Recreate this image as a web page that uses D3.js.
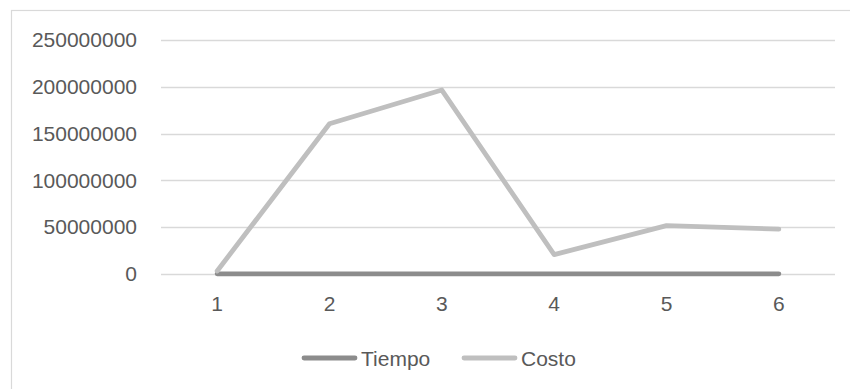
<!DOCTYPE html>
<html>
<head>
<meta charset="utf-8">
<script src="https://cdn.jsdelivr.net/npm/d3@7/dist/d3.min.js"></script>
<style>
  html, body { margin: 0; padding: 0; background: #fff; }
  svg { display: block; }
  text { font-family: "Liberation Sans", Arial, sans-serif; fill: #595959; }
</style>
</head>
<body>
<svg id="chart" width="850" height="389"></svg>
<script>
// Periods on the x axis
const categories = [1, 2, 3, 4, 5, 6];
// Series values
const tiempo = [0, 0, 0, 0, 0, 0];
const costo = [3000000, 160500000, 196500000, 20500000, 51500000, 47800000];
// Y axis ticks
const yTicks = [0, 50000000, 100000000, 150000000, 200000000, 250000000];

const seriesNames = ["Tiempo", "Costo"];
const seriesColors = ["#8c8c8c", "#bfbfbf"];
const seriesData = [tiempo, costo];

const svg = d3.select("#chart");
const W = 850, H = 389;

// Chart area frame
svg.append("rect")
  .attr("x", 11.5).attr("y", 10.5)
  .attr("width", W + 20).attr("height", H + 20)
  .attr("fill", "#fff").attr("stroke", "#d9d9d9").attr("stroke-width", 1.2);

const plot = { left: 161, right: 835, top: 40, bottom: 273.8 };

const x = d3.scaleBand()
  .domain(categories)
  .range([plot.left, plot.right])
  .paddingInner(0).paddingOuter(0);

const y = d3.scaleLinear()
  .domain([0, 250000000])
  .range([plot.bottom, plot.top]);

// Horizontal gridlines
svg.append("g")
  .selectAll("line")
  .data(yTicks)
  .join("line")
  .attr("x1", plot.left).attr("x2", plot.right)
  .attr("y1", d => Math.round(y(d)) + 0.5).attr("y2", d => Math.round(y(d)) + 0.5)
  .attr("stroke", "#d9d9d9").attr("stroke-width", 1.3);

// Y axis labels
const yAxis = d3.axisLeft(y).tickValues(yTicks).tickFormat(d3.format("d")).tickSize(0).tickPadding(0);
const yg = svg.append("g").attr("transform", `translate(${plot.left - 24},0)`).call(yAxis);
yg.select(".domain").remove();
yg.selectAll("text")
  .attr("font-size", 21)
  .attr("font-family", "'Liberation Sans', Arial, sans-serif")
  .attr("fill", "#595959");

// X axis labels
const xAxis = d3.axisBottom(x).tickSize(0).tickPadding(0);
const xg = svg.append("g").attr("transform", `translate(0,${plot.bottom + 22})`).call(xAxis);
xg.select(".domain").remove();
xg.selectAll("text")
  .attr("font-size", 21)
  .attr("font-family", "'Liberation Sans', Arial, sans-serif")
  .attr("fill", "#595959");

// Lines
const line = d3.line()
  .x((d, i) => x(categories[i]) + x.bandwidth() / 2)
  .y(d => y(d));

svg.append("g")
  .selectAll("path")
  .data(seriesData)
  .join("path")
  .attr("d", d => line(d))
  .attr("fill", "none")
  .attr("stroke", (d, i) => seriesColors[i])
  .attr("stroke-width", 4.8)
  .attr("stroke-linejoin", "round")
  .attr("stroke-linecap", "round");

// Legend
const legendItems = [
  { name: seriesNames[0], color: seriesColors[0], x: 302 },
  { name: seriesNames[1], color: seriesColors[1], x: 462 }
];
const lg = svg.append("g");
legendItems.forEach(item => {
  lg.append("line")
    .attr("x1", item.x + 2).attr("x2", item.x + 53)
    .attr("y1", 358).attr("y2", 358)
    .attr("stroke", item.color).attr("stroke-width", 4.8)
    .attr("stroke-linecap", "round");
  lg.append("text")
    .attr("x", item.x + 59).attr("y", 365.5)
    .attr("font-size", 21)
    .text(item.name);
});
</script>
</body>
</html>
